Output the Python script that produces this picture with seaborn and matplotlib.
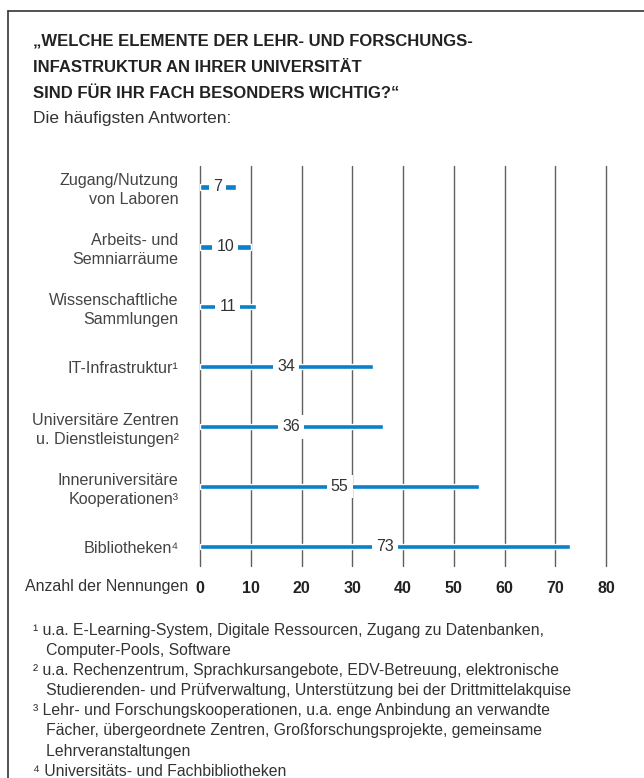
import seaborn as sns
import matplotlib.pyplot as plt
import matplotlib.lines as mlines
import pandas as pd

# Elemente der Lehr- und Forschungsinfrastruktur, Anzahl der Nennungen
kategorien = ['Zugang/Nutzung\nvon Laboren',
              'Arbeits- und\nSemniarräume',
              'Wissenschaftliche\nSammlungen',
              'IT-Infrastruktur¹',
              'Universitäre Zentren\nu. Dienstleistungen²',
              'Inneruniversitäre\nKooperationen³',
              'Bibliotheken⁴']
nennungen = [7, 10, 11, 34, 36, 55, 73]
xticks = [0, 10, 20, 30, 40, 50, 60, 70, 80]

titel = ['„WELCHE ELEMENTE DER LEHR- UND FORSCHUNGS-',
         'INFASTRUKTUR AN IHRER UNIVERSITÄT',
         'SIND FÜR IHR FACH BESONDERS WICHTIG?“']
untertitel = 'Die häufigsten Antworten:'
fussnoten = ['¹ u.a. E-Learning-System, Digitale Ressourcen, Zugang zu Datenbanken,',
             '   Computer-Pools, Software',
             '² u.a. Rechenzentrum, Sprachkursangebote, EDV-Betreuung, elektronische',
             '   Studierenden- und Prüfverwaltung, Unterstützung bei der Drittmittelakquise',
             '³ Lehr- und Forschungskooperationen, u.a. enge Anbindung an verwandte',
             '   Fächer, übergeordnete Zentren, Großforschungsprojekte, gemeinsame',
             '   Lehrveranstaltungen',
             '⁴ Universitäts- und Fachbibliotheken']

df = pd.DataFrame({'kat': kategorien, 'n': nennungen})

sns.set_style('white')
plt.rcParams['font.family'] = ['Liberation Sans', 'DejaVu Sans']

W, H = 644, 778
fig = plt.figure(figsize=(W / 100, H / 100), dpi=100)
ax = fig.add_axes([200 / W, 1 - 566 / H, 406 / W, 400 / H])

blau = '#0a80c8'
sns.barplot(data=df, y='kat', x='n', orient='h', color=blau, width=0.085,
            saturation=1, ax=ax, zorder=3)
ax.set_xlim(0, 80)
ax.set_ylim(6.32, -0.35)
ax.set_xticks(xticks)
ax.set_xticklabels([str(t) for t in xticks], fontweight='bold', fontsize=11.5,
                   color='#222')
ax.set_yticks(range(len(kategorien)))
ax.set_yticklabels(kategorien, fontsize=11.6, color='#444', linespacing=1.3)
ax.tick_params(axis='both', length=0)
ax.tick_params(axis='y', pad=15.5)
ax.tick_params(axis='x', pad=11)
ax.set_xlabel('')
ax.set_ylabel('')
for s in ax.spines.values():
    s.set_visible(False)
ax.grid(axis='x', color='#606060', linewidth=1, zorder=1)
ax.set_axisbelow(True)
for gl in ax.get_xgridlines():
    gl.set_clip_on(False)

for i, v in enumerate(nennungen):
    ax.text(v / 2, i, str(v), ha='center', va='center', fontsize=11.5, color='#333',
            zorder=5, bbox=dict(facecolor='white', edgecolor='none', pad=3))

fig.text(188 / W, 1 - 587 / H, 'Anzahl der Nennungen', ha='right', va='center',
         fontsize=11.5, color='#333')

# Rahmen
fig.add_artist(mlines.Line2D([8 / W, 1], [1 - 11 / H, 1 - 11 / H], color='#333', lw=1.2))
fig.add_artist(mlines.Line2D([8 / W, 8 / W], [0, 1 - 11 / H], color='#333', lw=1.2))

for k, t in enumerate(titel):
    fig.text(33 / W, 1 - (41 + 26 * k) / H, t, ha='left', va='center',
             fontsize=12, fontweight='bold', color='#222')
fig.text(33 / W, 1 - 119 / H, untertitel, ha='left', va='center', fontsize=12.5,
         color='#333')

for k, t in enumerate(fussnoten):
    fig.text(33 / W, 1 - (630 + 20.2 * k) / H, t, ha='left', va='center',
             fontsize=11.3, color='#333')

fig.savefig('out.png', dpi=100)
